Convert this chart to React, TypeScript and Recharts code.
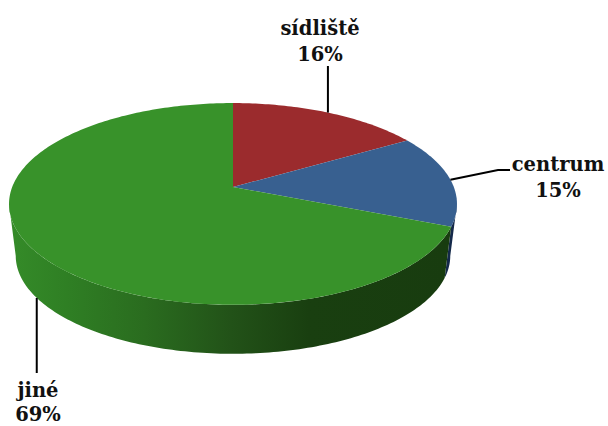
import { PieChart, Pie, Cell } from "recharts"

const categories = ["sídliště", "centrum", "jiné"]
const shares = [16.4, 14.8, 68.8]

const topColors = ["#9b2b2d", "#386090", "#38922a"]
const wallColors = ["#5c1a1b", "#14294a", "url(#greenWall)"]

// leader line ends, and where the two text rows sit
const labelLayout = [
  { points: [[66]], x: 320, y: 35, y2: 61, lower: false },
  { points: [[498, 170], [510, 170]], x: 558, y: 171, y2: 197, lower: false },
  { points: [[373]], x: 38, y: 397, y2: 421, lower: true },
]

// perspective of the tilted disc
const TILT = -0.168
const SQUASH = 0.444
const BOTTOM_SCALE = 0.97
const DEPTH = 52.5
// the disc outline turns around here, walls are only seen below this
const SILHOUETTE = 0.168

const project = (cx: number, cy: number, r: number, angle: number, bottom = false) => {
  const rad = (angle * Math.PI) / 180
  const u = Math.cos(rad)
  const v = -Math.sin(rad)
  const d = 1 + TILT * v
  const s = bottom ? BOTTOM_SCALE : 1
  return [cx + (s * r * u) / d, cy + (bottom ? DEPTH : 0) + (s * r * SQUASH * v) / d]
}

const sweep = (cx: number, cy: number, r: number, from: number, to: number, bottom = false) => {
  const pts: number[][] = []
  const steps = Math.max(2, Math.ceil(Math.abs(to - from)))
  for (let i = 0; i <= steps; i++) {
    pts.push(project(cx, cy, r, from + ((to - from) * i) / steps, bottom))
  }
  return pts
}

const toPath = (pts: number[][]) => pts.map((p, i) => `${i ? "L" : "M"}${p[0].toFixed(2)} ${p[1].toFixed(2)}`).join(" ")

const TopSlice = ({ cx, cy, outerRadius, startAngle, endAngle, fill }: any) => (
  <path d={`M${cx} ${cy} ${toPath(sweep(cx, cy, outerRadius, startAngle, endAngle)).replace("M", "L")} Z`} fill={fill} />
)

const WallSlice = ({ cx, cy, outerRadius, startAngle, endAngle, fill }: any) => {
  // only the part of the rim facing the viewer, angles in recharts' degrees
  const edge = (Math.asin(SILHOUETTE) * 180) / Math.PI
  const ranges = [
    [-edge, -180 + edge],
    [-360 - edge, -540 + edge],
    [360 - edge, 180 + edge],
  ]
  const hi = Math.max(startAngle, endAngle)
  const lo = Math.min(startAngle, endAngle)
  const parts: string[] = []
  ranges.forEach(([a, b]) => {
    const from = Math.min(hi, a)
    const to = Math.max(lo, b)
    if (from <= to) return
    const front = sweep(cx, cy, outerRadius, from, to)
    const back = sweep(cx, cy, outerRadius, to, from, true)
    parts.push(`${toPath(front)} ${toPath(back).replace("M", "L")} Z`)
  })
  return <path d={parts.join(" ")} fill={fill} />
}

const SliceLabel = ({ cx, cy, outerRadius, midAngle, index, value, name }: any) => {
  const layout = labelLayout[index]
  const start = project(cx, cy, outerRadius, midAngle, layout.lower)
  // a single number is the end of a straight vertical leader
  const line = [start, ...layout.points.map((p) => (p.length === 1 ? [start[0], p[0]] : p))]
  const textProps = { textAnchor: "middle", fontFamily: "DejaVu Serif", fontWeight: "bold", fontSize: 19.5, fill: "#111" } as const
  return (
    <g>
      <polyline points={line.map((p) => p.join(",")).join(" ")} fill="none" stroke="#000" strokeWidth={2} />
      <text x={layout.x} y={layout.y} {...textProps}>
        {name}
      </text>
      <text x={layout.x} y={layout.y2} {...textProps}>
        {Math.round(value)}%
      </text>
    </g>
  )
}

export default function App() {
  const data = categories.map((name, i) => ({ name, value: shares[i] }))

  return (
    <div style={{ position: "absolute", left: 0, top: 0, width: 608, height: 426 }}>
      <PieChart width={608} height={426} margin={{ top: 0, right: 0, bottom: 0, left: 0 }}>
        <defs>
          <linearGradient id="greenWall" gradientUnits="userSpaceOnUse" x1="15" y1="0" x2="447" y2="0">
            <stop offset="0" stopColor="#348a28" />
            <stop offset="0.12" stopColor="#2f7f24" />
            <stop offset="0.3" stopColor="#2a6c1f" />
            <stop offset="0.5" stopColor="#225218" />
            <stop offset="0.68" stopColor="#193f10" />
            <stop offset="1" stopColor="#183c0f" />
          </linearGradient>
        </defs>
        <Pie
          data={data}
          dataKey="value"
          nameKey="name"
          cx={233}
          cy={187}
          outerRadius={220.8}
          startAngle={90}
          endAngle={-270}
          stroke="none"
          shape={WallSlice}
          isAnimationActive={false}
        >
          {data.map((d, i) => (
            <Cell key={d.name} fill={wallColors[i]} />
          ))}
        </Pie>
        <Pie
          data={data}
          dataKey="value"
          nameKey="name"
          cx={233}
          cy={187}
          outerRadius={220.8}
          startAngle={90}
          endAngle={-270}
          stroke="none"
          shape={TopSlice}
          label={SliceLabel}
          labelLine={false}
          isAnimationActive={false}
        >
          {data.map((d, i) => (
            <Cell key={d.name} fill={topColors[i]} />
          ))}
        </Pie>
      </PieChart>
    </div>
  )
}
